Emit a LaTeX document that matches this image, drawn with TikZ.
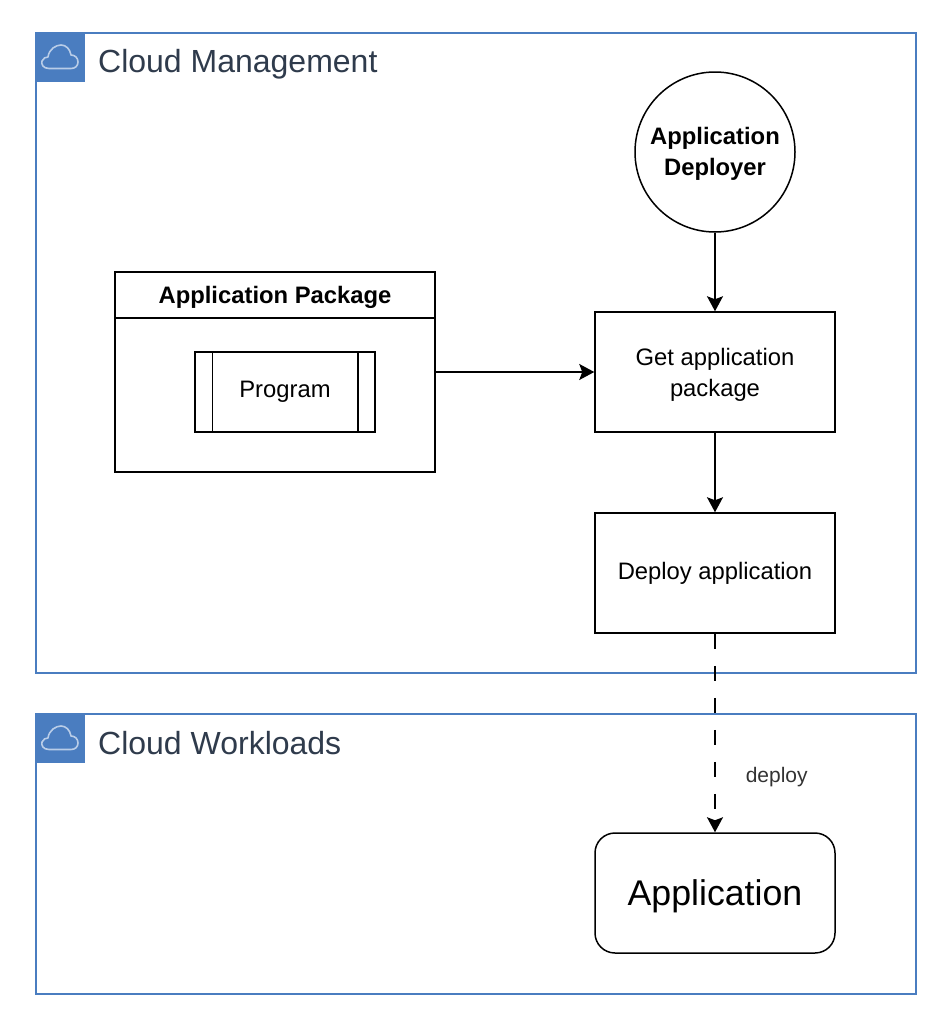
\documentclass[tikz,border=0pt]{standalone}
\usepackage{fontspec}
\setmainfont{Liberation Sans}
\usetikzlibrary{arrows.meta}
\definecolor{groupblue}{HTML}{4A7DC0}
\definecolor{groupink}{HTML}{2F3B4C}
\definecolor{cloudline}{HTML}{B9CDE8}

\begin{document}
\begin{tikzpicture}[x=1pt,y=-1pt]
    \tikzset{
      groupbox/.style={draw=groupblue,line width=1.5pt,minimum width=880pt,inner sep=0pt,anchor=north west},
      groupicon/.style={fill=groupblue,minimum width=50pt,minimum height=50pt,inner sep=0pt,anchor=north west},
      grouptitle/.style={text=groupink,font=\fontsize{32}{36}\selectfont,anchor=base west,inner sep=0pt},
      process/.style={draw,line width=1.5pt,minimum width=240pt,minimum height=120pt,inner sep=0pt,align=center,font=\fontsize{23.8}{31}\selectfont},
      flow/.style={line width=1.5pt,-{Stealth[length=15pt,width=16pt,inset=3pt]}},
      cloudicon/.style={draw=cloudline,line width=1.6pt,line join=round}
    }
    \useasboundingbox (0,0) rectangle (948,1031);
    % groups
    \node[groupbox,minimum height=640pt] (management) at (35,32) {};
    \node[groupbox,minimum height=280pt] (workloads) at (35,713) {};
    \node[groupicon] (managementicon) at (35,32) {};
    \node[groupicon] (workloadsicon) at (35,713) {};
    \foreach \y in {32,713} {
      \draw[cloudicon,shift={(0,\y)}] (49,36.5) .. controls (43,36.5) and (41,32) .. (42,29)
        .. controls (43,26) and (46,25) .. (48,25) .. controls (49,17) and (56,13) .. (61,13)
        .. controls (66,13) and (70,17) .. (71,23) .. controls (75,23) and (78,26) .. (78,30)
        .. controls (78,34) and (75,36.5) .. (71,36.5) -- cycle;
    }
    \node[grouptitle] (managementtitle) at (98,72) {Cloud Management};
    \node[grouptitle] (workloadstitle) at (98,754) {Cloud Workloads};
    % package
    \node[draw,line width=1.5pt,minimum width=320pt,minimum height=200pt,inner sep=0pt] (package) at (275,372) {};
    \node[draw,line width=1.5pt,minimum width=320pt,minimum height=46pt,inner sep=0pt,
      font=\fontsize{23.8}{28}\selectfont\bfseries] (packagetitle) at (275,295) {\rule{0pt}{22pt}Application Package};
    \node[draw,line width=1.5pt,minimum width=180pt,minimum height=80pt,inner sep=0pt,
      font=\fontsize{23.8}{28}\selectfont] (program) at (285,392) {Program};
    \draw[line width=1.5pt] (program.north west) ++(18,0) -- ++(0,80);
    \draw[line width=1.5pt] (program.north east) ++(-18,0) -- ++(0,80);
    % flow
    \node[draw,circle,line width=1.5pt,minimum size=160pt,inner sep=0pt,align=center,
      font=\fontsize{23.8}{31}\selectfont\bfseries] (deployer) at (715,152) {\rule{0pt}{21.5pt}Application\\Deployer};
    \node[process] (get) at (715,372) {\rule{0pt}{22pt}Get application\\package};
    \node[process] (deployapp) at (715,573) {Deploy application};
    \node[process,rounded corners=20pt,font=\fontsize{35.7}{40}\selectfont] (application) at (715,893) {\rule{0pt}{32pt}Application};
    \draw[flow] (deployer) -- (get);
    \draw[flow] (package) -- (get);
    \draw[flow] (get) -- (deployapp);
    \draw[flow,dash pattern=on 15pt off 17pt] (deployapp) -- (application)
      node[pos=0.72,right=30pt,inner sep=0pt,font=\fontsize{21}{24}\selectfont,text=black!80] (deploylabel) {deploy};
\end{tikzpicture}
\end{document}
